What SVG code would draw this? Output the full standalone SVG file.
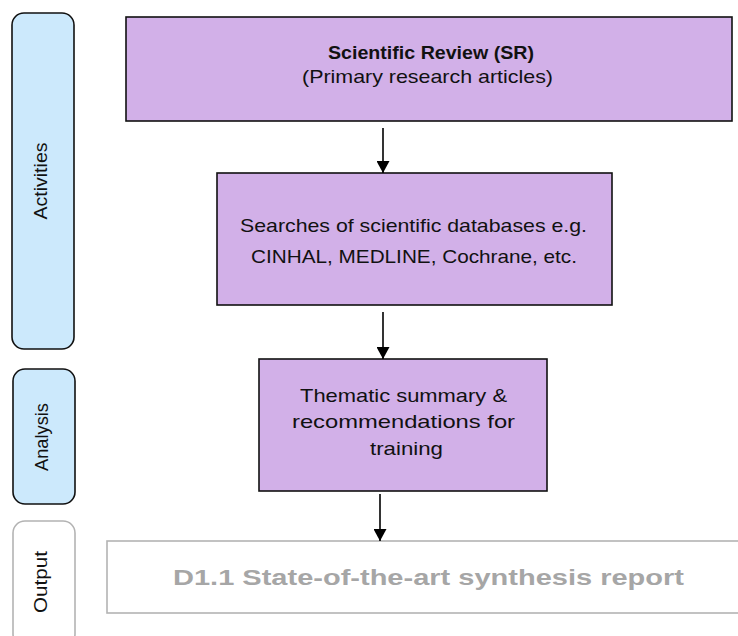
<svg xmlns="http://www.w3.org/2000/svg" width="738" height="636" viewBox="0 0 738 636">
<defs>
<style>
.phase{fill:#cce9fc;stroke:#111;stroke-width:1.6}
.phase-out{fill:#fff;stroke:#b3b3b3;stroke-width:1.6}
.box{fill:#d2b0e8;stroke:#111;stroke-width:1.6}
.lbl{font-family:"Liberation Sans",Arial,sans-serif;font-size:19px;fill:#111}
.b{font-weight:bold}
.out{font-family:"Liberation Sans",Arial,sans-serif;font-size:22px;font-weight:bold;fill:#a6a6a6}
.conn{stroke:#000;stroke-width:1.6;fill:none}
</style>
<marker id="arr" viewBox="0 0 12 13" refX="12" refY="6.5" markerWidth="12" markerHeight="13" markerUnits="userSpaceOnUse" orient="auto">
<path d="M0,0 L12,6.5 L0,13 z" fill="#000"/>
</marker>
</defs>
<rect width="738" height="636" fill="#fff"/>
<g id="phase-activities">
<rect class="phase" x="12" y="13" width="62" height="336" rx="12"/>
<text class="lbl" transform="translate(47,181) rotate(-90)" text-anchor="middle" textLength="77" lengthAdjust="spacingAndGlyphs">Activities</text>
</g>
<g id="phase-analysis">
<rect class="phase" x="13" y="369" width="62" height="135" rx="12"/>
<text class="lbl" transform="translate(48,437) rotate(-90)" text-anchor="middle" textLength="68" lengthAdjust="spacingAndGlyphs">Analysis</text>
</g>
<g id="phase-output">
<rect class="phase-out" x="13" y="521" width="62" height="125" rx="12"/>
<text class="lbl" transform="translate(47,582) rotate(-90)" text-anchor="middle" textLength="62" lengthAdjust="spacingAndGlyphs">Output</text>
</g>
<g id="node-sr">
<rect class="box" x="126" y="17" width="606" height="104"/>
<text class="lbl b" x="328" y="59" textLength="206" lengthAdjust="spacingAndGlyphs">Scientific Review (SR)</text>
<text class="lbl" x="302" y="83" textLength="251" lengthAdjust="spacingAndGlyphs">(Primary research articles)</text>
</g>
<g id="node-searches">
<rect class="box" x="217" y="173" width="395" height="132"/>
<text class="lbl" x="240" y="232" textLength="347" lengthAdjust="spacingAndGlyphs">Searches of scientific databases e.g.</text>
<text class="lbl" x="251" y="263" textLength="326" lengthAdjust="spacingAndGlyphs">CINHAL, MEDLINE, Cochrane, etc.</text>
</g>
<g id="node-thematic">
<rect class="box" x="259" y="359" width="288" height="132"/>
<text class="lbl" x="300" y="402" textLength="207" lengthAdjust="spacingAndGlyphs">Thematic summary &amp;</text>
<text class="lbl" x="292" y="428" textLength="223" lengthAdjust="spacingAndGlyphs">recommendations for</text>
<text class="lbl" x="370" y="455" textLength="73" lengthAdjust="spacingAndGlyphs">training</text>
</g>
<g id="node-output">
<rect class="phase-out" x="107" y="541" width="640" height="72"/>
<text class="out" x="173" y="585" textLength="511" lengthAdjust="spacingAndGlyphs">D1.1 State-of-the-art synthesis report</text>
</g>
<g id="connectors">
<line class="conn" x1="383" y1="128" x2="383" y2="173" marker-end="url(#arr)"/>
<line class="conn" x1="383" y1="312" x2="383" y2="359" marker-end="url(#arr)"/>
<line class="conn" x1="380" y1="494" x2="380" y2="541" marker-end="url(#arr)"/>
</g>
</svg>
